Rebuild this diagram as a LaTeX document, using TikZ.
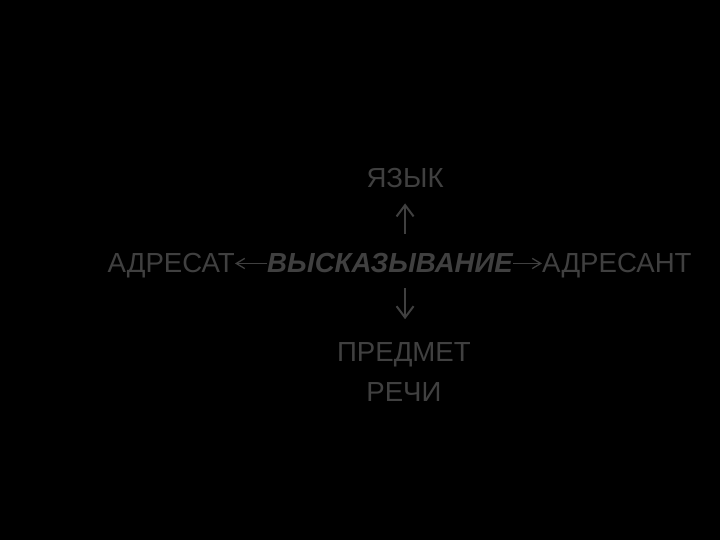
\documentclass[tikz,border=0pt]{standalone}
\usepackage{fontspec}
\setmainfont{Liberation Sans}
\usetikzlibrary{positioning}
\usetikzlibrary{calc}
\usetikzlibrary{arrows.meta}
\definecolor{slidegray}{gray}{0.25}
\tikzset{
    % Plain slide text, no frame
    slide text/.style={text=slidegray, inner sep=0pt,
        font=\fontsize{27.6bp}{40bp}\selectfont},
%
    % The centre word is set in bold italic
    key text/.style={slide text, font=\fontsize{27.6bp}{40bp}\selectfont\bfseries\itshape},
%
    % Thin open arrows, as in the slide
    thin arrow/.style={draw=slidegray, line width=1.3pt,
        -{Straight Barb[length=3mm, width=3.6mm]}},
    tall arrow/.style={draw=slidegray, line width=2pt,
        -{Straight Barb[length=4mm, width=6mm]}}}

\begin{document}
\begin{tikzpicture}

\fill [black] (0,0) rectangle (254mm,-190.5mm);
\useasboundingbox (0,0) rectangle (254mm,-190.5mm);

\node [key text, anchor=base] (utter) at (137.6mm,-96.3mm) {ВЫСКАЗЫВАНИЕ};
\node [slide text, base left=11.3mm of utter] (adresat) {АДРЕСАТ};
\node [slide text, base right=10.2mm of utter] (adresant) {АДРЕСАНТ};

\node [slide text, anchor=base] (yazyk) at (142.9mm,-66mm) {ЯЗЫК};
\node [slide text, anchor=north, align=center]
    (predmet) at (142.5mm,-120.6mm) {ПРЕДМЕТ\\РЕЧИ};

\draw [thin arrow] (utter.west) -- (utter.west -| adresat.east);
\draw [thin arrow] (utter.east) -- (utter.east -| adresant.west);

\draw [tall arrow, shorten <=7mm, shorten >=5.6mm]
    (yazyk |- utter.north) -- (yazyk.south);
\draw [tall arrow, shorten <=5.3mm, shorten >=8mm]
    (yazyk |- utter.south) -- (yazyk |- predmet.north);

\end{tikzpicture}
\end{document}
